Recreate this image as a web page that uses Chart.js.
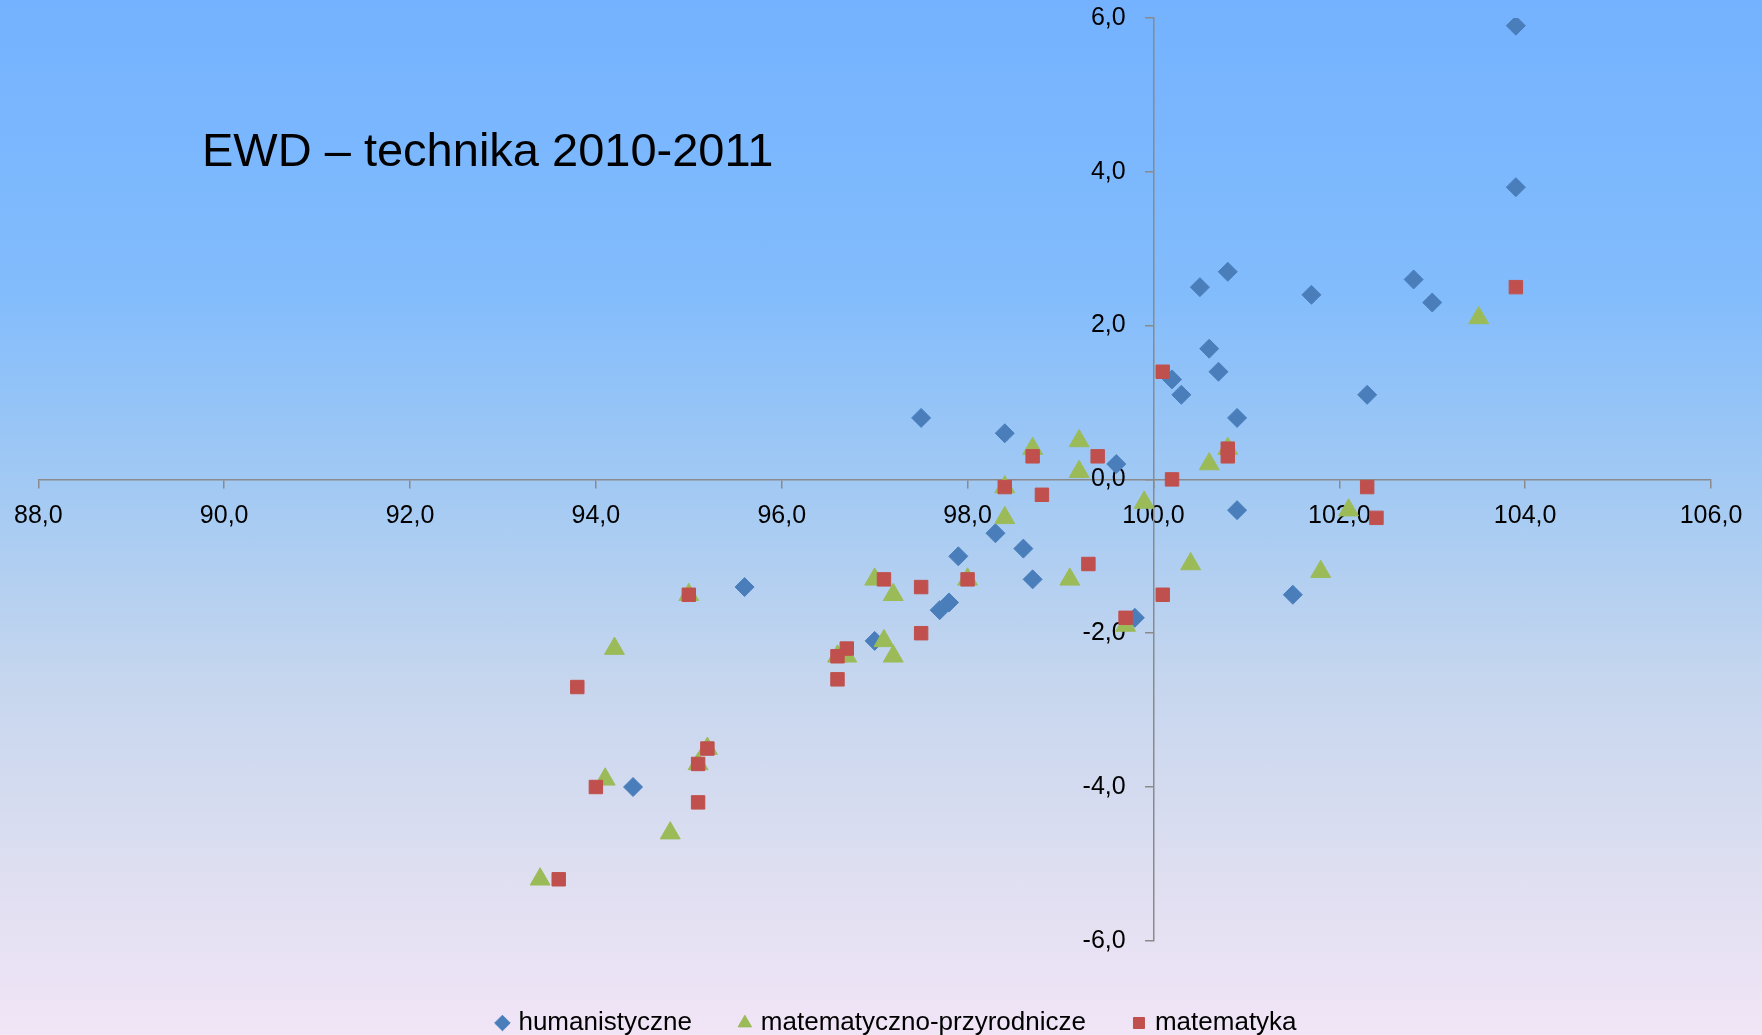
<!DOCTYPE html>
<html lang="pl">
<head>
  <meta charset="UTF-8" />
  <title>EWD – technika 2010-2011</title>
  <style>
    html, body { margin: 0; padding: 0; }
    #wrap {
      position: relative; width: 1762px; height: 1035px; overflow: hidden;
      background: linear-gradient(to bottom, #74b2ff 0%, #82bcfc 28%, #a4caf3 48%, #c6d6ee 66%, #dfdff1 85%, #f1e5f6 100%);
    }
    #title {
      position: absolute; left: 202px; top: 126px;
      font: 47px/1 "Liberation Sans", Arial, sans-serif; color: #000;
    }
    canvas { position: absolute; left: 0; top: 0; }
  </style>
</head>
<body>
<div id="wrap">
  <canvas id="chart" width="1762" height="1035"></canvas>
  <div id="title">EWD – technika 2010-2011</div>
</div>

<script src="https://cdn.jsdelivr.net/npm/chart.js"></script>
<script>
// osie
const xTicks = [88, 90, 92, 94, 96, 98, 100, 102, 104, 106];
const yTicks = [-6, -4, -2, 0, 2, 4, 6];

const seriesNames = ['humanistyczne', 'matematyczno-przyrodnicze', 'matematyka'];

// humanistyczne
const humX = [103.9, 103.9, 100.8, 100.5, 101.7, 102.8, 103.0, 100.6, 100.7, 100.2, 100.3, 102.3, 100.9, 97.5,
              98.4, 99.6, 100.9, 98.3, 98.6, 97.9, 98.7, 95.6, 101.5, 97.8, 97.7, 99.8, 97.0, 94.4];
const humY = [5.9, 3.8, 2.7, 2.5, 2.4, 2.6, 2.3, 1.7, 1.4, 1.3, 1.1, 1.1, 0.8, 0.8,
              0.6, 0.2, -0.4, -0.7, -0.9, -1.0, -1.3, -1.4, -1.5, -1.6, -1.7, -1.8, -2.1, -4.0];

// matematyczno-przyrodnicze
const mpX = [103.5, 98.7, 99.2, 99.2, 98.4, 98.4, 99.9, 100.6, 100.8, 102.1, 100.4, 101.8, 99.1, 98.0,
             97.0, 97.2, 97.1, 97.2, 96.6, 96.7, 99.7, 95.0, 94.2, 95.2, 95.1, 94.1, 94.8, 93.4];
const mpY = [2.1, 0.4, 0.5, 0.1, -0.1, -0.5, -0.3, 0.2, 0.4, -0.4, -1.1, -1.2, -1.3, -1.3,
             -1.3, -1.5, -2.1, -2.3, -2.3, -2.3, -1.9, -1.5, -2.2, -3.5, -3.7, -3.9, -4.6, -5.2];

// matematyka
const matX = [103.9, 100.1, 100.8, 100.8, 98.7, 99.4, 100.2, 98.4, 98.8, 102.3, 102.4, 99.3, 98.0, 97.1,
              97.5, 100.1, 99.7, 97.5, 96.7, 96.6, 96.6, 95.0, 93.8, 95.2, 95.1, 94.0, 95.1, 93.6];
const matY = [2.5, 1.4, 0.4, 0.3, 0.3, 0.3, 0.0, -0.1, -0.2, -0.1, -0.5, -1.1, -1.3, -1.3,
              -1.4, -1.5, -1.8, -2.0, -2.2, -2.3, -2.6, -1.5, -2.7, -3.5, -3.7, -4.0, -4.2, -5.2];

const pts = (xs, ys) => xs.map((x, i) => ({ x: x, y: ys[i] }));
const fmt = v => Number(v).toFixed(1).replace('.', ',');
const tickFont = { family: '"Liberation Sans", Arial, sans-serif', size: 25 };

// legenda w oryginale jest lekko przesunięta w prawo
const legendShift = {
  id: 'legendShift',
  afterLayout: chart => { chart.legend.left += 48; }
};

const ctx = document.getElementById('chart').getContext('2d');
new Chart(ctx, {
  type: 'scatter',
  data: {
    datasets: [
      {
        label: seriesNames[0], data: pts(humX, humY), order: 3,
        pointStyle: 'rectRot', pointRadius: 9.5,
        backgroundColor: '#4a7ebb', borderColor: '#4a7ebb', borderWidth: 1
      },
      {
        label: seriesNames[1], data: pts(mpX, mpY), order: 2,
        pointStyle: 'triangle', pointRadius: 11.5,
        backgroundColor: '#9bbb59', borderColor: '#9bbb59', borderWidth: 1
      },
      {
        label: seriesNames[2], data: pts(matX, matY), order: 1,
        pointStyle: 'rect', pointRadius: 9.5,
        backgroundColor: '#c0504d', borderColor: '#c0504d', borderWidth: 1
      }
    ]
  },
  plugins: [legendShift],
  options: {
    responsive: false,
    animation: false,
    events: [],
    layout: { padding: { left: 37, right: 51, top: 10, bottom: -11 } },
    scales: {
      x: {
        type: 'linear', min: 88, max: 106,
        position: { y: 0 },
        afterBuildTicks: s => { s.ticks = xTicks.map(v => ({ value: v })); },
        grid: { drawOnChartArea: false, drawTicks: true, tickLength: 8, color: '#8a8a8a', lineWidth: 1.5 },
        border: { color: '#8a8a8a', width: 1.5 },
        ticks: { color: '#000', font: tickFont, padding: 14, maxRotation: 0, autoSkip: false, callback: v => fmt(v) }
      },
      y: {
        type: 'linear', min: -6, max: 6,
        position: { x: 100 },
        afterBuildTicks: s => { s.ticks = yTicks.map(v => ({ value: v })); },
        grid: { drawOnChartArea: false, drawTicks: true, tickLength: 8, color: '#8a8a8a', lineWidth: 1.5 },
        border: { color: '#8a8a8a', width: 1.5 },
        // etykiety wyrównane do prawej, spacje odsuwają je od osi
        ticks: { color: '#000', font: tickFont, autoSkip: false, callback: v => fmt(v) + '    ' }
      }
    },
    plugins: {
      tooltip: { enabled: false },
      title: { display: false },
      legend: {
        position: 'bottom',
        reverse: true,
        title: { display: true, text: '', font: { size: 1 }, padding: { top: 18, bottom: 0 } },
        labels: {
          usePointStyle: true, boxWidth: 6, boxHeight: 11, padding: 50,
          color: '#000', font: { family: '"Liberation Sans", Arial, sans-serif', size: 26 }
        }
      }
    }
  }
});
</script>
</body>
</html>
